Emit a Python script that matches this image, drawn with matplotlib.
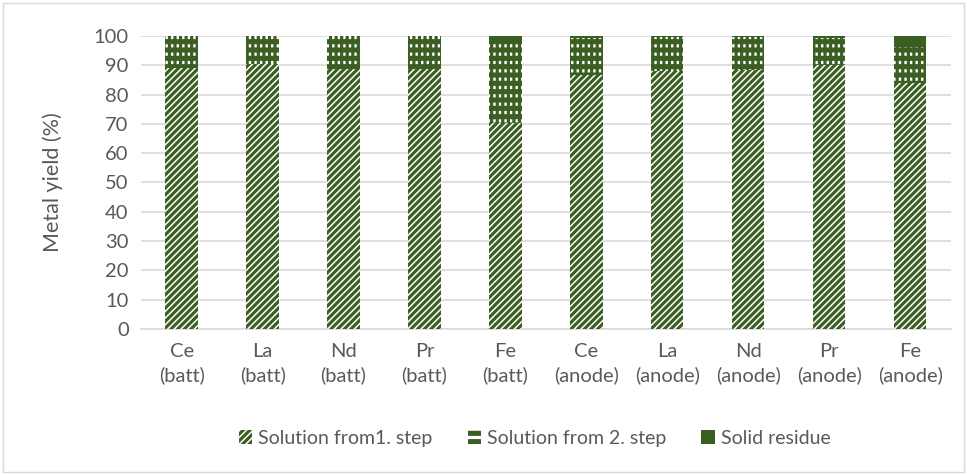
import numpy as np
import matplotlib.pyplot as plt

plt.rcParams['font.family'] = ['Lato', 'DejaVu Sans']
plt.rcParams['hatch.linewidth'] = 2.3

# Data
categories = ['Ce\n(batt)', 'La\n(batt)', 'Nd\n(batt)', 'Pr\n(batt)', 'Fe\n(batt)',
              'Ce\n(anode)', 'La\n(anode)', 'Nd\n(anode)', 'Pr\n(anode)', 'Fe\n(anode)']
step1 = [89.2, 90.3, 88.6, 88.8, 70.4, 86.8, 87.9, 88.5, 90.0, 84.1]
residue = [0.0, 0.0, 0.0, 0.0, 1.2, 0.6, 0.5, 0.4, 0.6, 3.7]
step2 = [100 - a - r for a, r in zip(step1, residue)]

green = '#3b5e23'
text_color = '#595959'

fig = plt.figure(figsize=(9.67, 4.74), dpi=100)
ax = fig.add_axes([0.146, 0.306, 0.837, 0.618])

x = np.arange(len(categories))
w = 0.4

# step 1: diagonal stripes
ax.bar(x, step1, w, color='white', edgecolor=green, hatch='/////', linewidth=0,
       label='Solution from1. step', zorder=3)
# step 2: green with white dashes
bottom2 = np.array(step1)
ax.bar(x, step2, w, bottom=bottom2, color=green, edgecolor='white', hatch='--',
       linewidth=0, label='Solution from 2. step', zorder=3)
ax.bar(x, step2, w, bottom=bottom2, color='none', edgecolor=green, hatch='|||',
       linewidth=0, zorder=4)
# residue
bottom3 = bottom2 + np.array(step2)
ax.bar(x, residue, w, bottom=bottom3, color=green, linewidth=0,
       label='Solid residue', zorder=3)

ax.set_xlim(-0.5, len(categories) - 0.5)
ax.set_ylim(0, 100)
ax.set_yticks(range(0, 101, 10))
ax.set_xticks(x)
ax.set_xticklabels(categories, fontsize=14.5, color=text_color, linespacing=1.45)
ax.tick_params(axis='y', labelsize=14.5, labelcolor=text_color, length=0, pad=9)
ax.tick_params(axis='x', length=0, pad=10)
ax.set_ylabel('Metal yield (%)', fontsize=15.5, color=text_color, labelpad=22)

ax.grid(axis='y', color='#d9d9d9', linewidth=1.2, zorder=0)
for s in ['top', 'right', 'left']:
    ax.spines[s].set_visible(False)
ax.spines['bottom'].set_color('#d9d9d9')
ax.spines['bottom'].set_linewidth(1.2)

handles, labels = ax.get_legend_handles_labels()
fig.legend(handles, labels, loc='center', bbox_to_anchor=(0.553, 0.075), ncol=3,
           frameon=False, fontsize=14, labelcolor=text_color, handlelength=0.7,
           handleheight=0.7, columnspacing=1.8, handletextpad=0.3)

# light chart-area border
fig.patches.append(plt.Rectangle((0.003, 0.004), 0.994, 0.99, transform=fig.transFigure,
                                 fill=False, edgecolor='#d9d9d9', linewidth=1))

fig.savefig('out.png', dpi=100)
